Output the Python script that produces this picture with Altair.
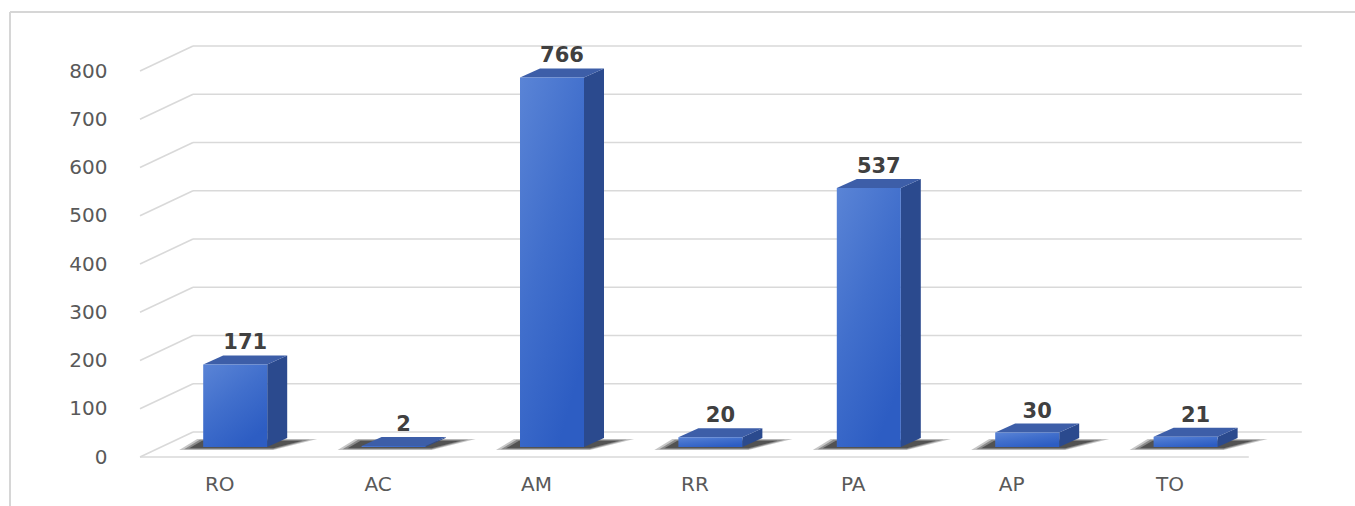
import json
import altair as alt
import pandas as pd

# --- data -------------------------------------------------------------
categories = ["RO", "AC", "AM", "RR", "PA", "AP", "TO"]
values = [171, 2, 766, 20, 537, 30, 21]
y_ticks = [0, 100, 200, 300, 400, 500, 600, 700, 800]

# --- layout of the pseudo-3D projection ---------------------------------
W, H = 1230, 427            # plot area in px
PX_CAT = 158.4              # px per category step
PX_VAL = 0.4825             # px per value unit
LEFT_GAP = 30               # px between plot edge and the floor's front-left corner

X0 = -0.5 - LEFT_GAP / PX_CAT
x_scale = alt.Scale(domain=[X0, X0 + W / PX_CAT], nice=False, zero=False)
y_scale = alt.Scale(domain=[0, H / PX_VAL], nice=False, zero=False)


def du(px):
    return px / PX_CAT


def dv(px):
    return px / PX_VAL


BACK_X, BACK_Y = du(53), dv(25)      # wall offset (back plane)
FRONT_X, FRONT_Y = du(16), dv(10)    # bar front face offset from front plane
DEPTH_X, DEPTH_Y = du(20), dv(9)     # bar depth
HALF_W = du(32)                      # half width of bar front face

FONT = "DejaVu Sans"
GRID = "#d9d9d9"
N = len(categories)

label_expr = json.dumps(categories) + "[datum.value]"
x_axis = alt.Axis(values=list(range(N)), labelExpr=label_expr, title=None,
                  domain=False, ticks=False, grid=False, labelFont=FONT,
                  labelFontSize=20, labelColor="#595959", labelPadding=17)
y_axis = alt.Axis(values=y_ticks, title=None, domain=False, ticks=False,
                  grid=False, labelFont=FONT, labelFontSize=20,
                  labelColor="#595959", labelPadding=3)


def X(field):
    return alt.X(field, scale=x_scale, axis=x_axis)


def Y(field):
    return alt.Y(field, scale=y_scale, axis=y_axis)


# --- derived tables -----------------------------------------------------
grid = pd.DataFrame({
    "t": y_ticks,
    "bx": [-0.5 + BACK_X] * len(y_ticks),
    "bx2": [N - 0.5 + BACK_X] * len(y_ticks),
    "by": [t + BACK_Y for t in y_ticks],
    "fx": [-0.5] * len(y_ticks),
})
floor = pd.DataFrame({"fx": [-0.5], "fx2": [N - 0.5], "fy": [0]})

# soft floor shadow: nested translucent parallelograms (outer -> inner)
shadow_levels = [(0, 0.25), (5, 0.35), (10, 0.5)]

bars, side, top, shadow = [], [], [], []
for i, (c, v) in enumerate(zip(categories, values)):
    xl = i + FRONT_X - HALF_W
    xr = i + FRONT_X + HALF_W
    yb = FRONT_Y
    yt = v + FRONT_Y
    bars.append({"cat": c, "v": v, "xl": xl, "xr": xr, "yb": yb, "yt": yt,
                 "lx": i + FRONT_X + DEPTH_X / 2, "ly": yt + DEPTH_Y})
    side += [{"cat": c, "sx": xr, "sy": yt, "sy2": yb},
             {"cat": c, "sx": xr + DEPTH_X, "sy": yt + DEPTH_Y, "sy2": yb + DEPTH_Y}]
    top += [{"cat": c, "ty": yt, "tx": xl, "tx2": xr},
            {"cat": c, "ty": yt + DEPTH_Y, "tx": xl + DEPTH_X, "tx2": xr + DEPTH_X}]
    for lvl, (inset, op) in enumerate(shadow_levels):
        shadow += [
            {"cat": c, "lvl": lvl, "o": op, "hy": yb - dv(3) + dv(inset / 6),
             "hx": xl - du(24) + du(inset), "hx2": xr + du(6)},
            {"cat": c, "lvl": lvl, "o": op, "hy": yb + dv(8) - dv(inset / 6),
             "hx": xl - du(6) + du(inset / 2), "hx2": xr + DEPTH_X + du(30) - du(inset * 1.5)},
        ]

bars = pd.DataFrame(bars)
side = pd.DataFrame(side)
top = pd.DataFrame(top)
shadow = pd.DataFrame(shadow)
one = pd.DataFrame({"k": [0]})

# --- frame around the chart ---------------------------------------------
frame_left = alt.Chart(one).mark_rule(color="#d6d6d6", strokeWidth=2).encode(
    x=alt.value(-100), y=alt.value(-18), y2=alt.value(H + 60))
frame_top = alt.Chart(one).mark_rule(color="#d6d6d6", strokeWidth=2).encode(
    x=alt.value(-100), x2=alt.value(W + 20), y=alt.value(-18))

# --- walls and floor ------------------------------------------------------
back_lines = alt.Chart(grid).mark_rule(color=GRID, strokeWidth=1.6).encode(
    x=X("bx:Q"), x2="bx2:Q", y=Y("by:Q"))
side_lines = alt.Chart(grid).mark_rule(color=GRID, strokeWidth=1.6).encode(
    x=X("fx:Q"), x2="bx:Q", y=Y("t:Q"), y2="by:Q")
floor_front = alt.Chart(floor).mark_rule(color=GRID, strokeWidth=1.6).encode(
    x=X("fx:Q"), x2="fx2:Q", y=Y("fy:Q"))

# --- bar shadows on the floor --------------------------------------------
shadows = alt.Chart(shadow).mark_area(orient="horizontal", color="#1a1a1a").encode(
    y=Y("hy:Q"), x=X("hx:Q"), x2="hx2:Q",
    opacity=alt.Opacity("o:Q", scale=None),
    detail=["cat:N", "lvl:N"],
)

# --- bars -----------------------------------------------------------------
side_faces = alt.Chart(side).mark_area(color="#2b4a8e").encode(
    x=X("sx:Q"), y=Y("sy:Q"), y2="sy2:Q", detail="cat:N")
top_faces = alt.Chart(top).mark_area(orient="horizontal", color="#3d5ea8").encode(
    y=Y("ty:Q"), x=X("tx:Q"), x2="tx2:Q", detail="cat:N")
front_fill = alt.Gradient(
    gradient="linear", x1=0, y1=0, x2=0.6, y2=1,
    stops=[alt.GradientStop(offset=0, color="#5a84d6"),
           alt.GradientStop(offset=0.5, color="#416fcc"),
           alt.GradientStop(offset=1, color="#2d5dc3")])
front_faces = alt.Chart(bars).mark_rect(color=front_fill).encode(
    x=X("xl:Q"), x2="xr:Q", y=Y("yb:Q"), y2="yt:Q")

# --- value labels -----------------------------------------------------------
value_labels = alt.Chart(bars).mark_text(
    font=FONT, fontSize=21, fontWeight="bold", color="#404040",
    baseline="bottom", dy=-2,
).encode(x=X("lx:Q"), y=Y("ly:Q"), text="v:Q")

chart = alt.layer(
    frame_left, frame_top,
    back_lines, side_lines, floor_front,
    shadows, side_faces, top_faces, front_faces,
    value_labels,
).properties(
    width=W, height=H,
    autosize=alt.AutoSizeParams(type="none"),
    padding={"left": 110, "top": 30, "right": 15, "bottom": 49},
    background="white",
).configure_view(stroke=None)

chart.save("out.html", embed_options={"renderer": "svg", "actions": False})
